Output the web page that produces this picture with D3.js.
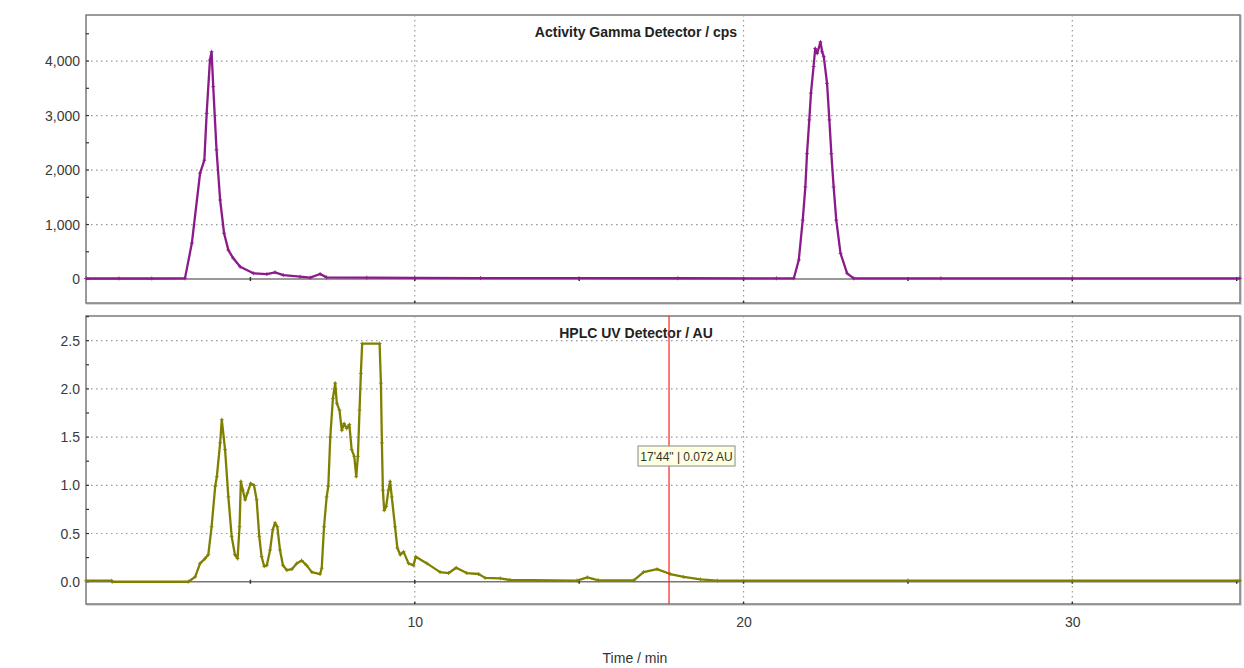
<!DOCTYPE html>
<html>
<head>
<meta charset="utf-8">
<script src="https://cdn.jsdelivr.net/npm/d3@7"></script>
<style>
  html, body { margin: 0; padding: 0; background: #fff; }
  svg { display: block; font-family: "Liberation Sans", Arial, sans-serif; }
</style>
</head>
<body>
<svg id="chart" width="1244" height="668"></svg>
<script>
// ---- data ----
const gammaTime = [0, 1, 2, 3.01, 3.22, 3.47, 3.6, 3.67, 3.77, 3.82, 3.87, 3.97, 4.08, 4.2, 4.33, 4.48, 4.69, 5.09, 5.5, 5.75, 6.0, 6.51, 6.82, 7.12, 7.32, 8.54, 10, 12, 15, 18, 21.0, 21.53, 21.68, 21.8, 21.88, 21.93, 22.0, 22.05, 22.13, 22.18, 22.24, 22.34, 22.39, 22.44, 22.54, 22.61, 22.67, 22.74, 22.82, 22.95, 23.15, 23.35, 26, 30, 35.1];
const gammaCps  = [10, 10, 10, 12, 660, 1945, 2180, 3040, 4020, 4170, 3530, 2370, 1450, 840, 530, 380, 226, 105, 90, 123, 73, 43, 25, 92, 30, 25, 20, 18, 15, 14, 13, 14, 350, 1080, 1690, 2300, 2920, 3410, 3900, 4230, 4140, 4350, 4170, 4080, 3590, 2920, 2300, 1690, 1080, 470, 105, 13, 12, 12, 12];

const uvTime = [0, 0.78, 0.8, 3.11, 3.32, 3.47, 3.62, 3.72, 3.82, 3.93, 3.98, 4.08, 4.13, 4.23, 4.33, 4.43, 4.53, 4.61, 4.67, 4.71, 4.77, 4.84, 4.91, 5.01, 5.11, 5.19, 5.27, 5.34, 5.42, 5.5, 5.6, 5.68, 5.75, 5.82, 5.9, 5.99, 6.11, 6.26, 6.41, 6.56, 6.71, 6.87, 7.12, 7.17, 7.24, 7.32, 7.37, 7.43, 7.51, 7.58, 7.63, 7.71, 7.78, 7.85, 7.93, 8.01, 8.08, 8.16, 8.22, 8.27, 8.32, 8.36, 8.4, 8.93, 8.97, 9.0, 9.03, 9.07, 9.13, 9.2, 9.25, 9.3, 9.4, 9.47, 9.56, 9.66, 9.81, 9.96, 10.03, 10.37, 10.77, 11.03, 11.26, 11.58, 11.94, 12.14, 12.6, 12.9, 14.93, 15.25, 15.59, 16.66, 16.96, 17.37, 17.77, 18.18, 18.69, 19.2, 25, 30, 35.1];
const uvAU   = [0.01, 0.01, 0.0, 0.0, 0.05, 0.19, 0.24, 0.28, 0.57, 0.99, 1.09, 1.44, 1.68, 1.37, 0.88, 0.47, 0.28, 0.24, 0.57, 1.04, 0.95, 0.85, 0.92, 1.02, 1.0, 0.85, 0.47, 0.26, 0.16, 0.17, 0.33, 0.54, 0.61, 0.57, 0.33, 0.17, 0.12, 0.13, 0.19, 0.22, 0.17, 0.10, 0.08, 0.14, 0.57, 0.88, 0.99, 1.50, 1.90, 2.06, 1.85, 1.78, 1.57, 1.64, 1.59, 1.63, 1.37, 1.30, 1.09, 1.30, 1.78, 2.16, 2.47, 2.47, 2.06, 1.44, 0.95, 0.74, 0.78, 0.95, 1.04, 0.88, 0.57, 0.35, 0.28, 0.31, 0.19, 0.17, 0.26, 0.19, 0.10, 0.09, 0.145, 0.09, 0.08, 0.04, 0.035, 0.018, 0.012, 0.045, 0.015, 0.015, 0.10, 0.13, 0.08, 0.05, 0.025, 0.012, 0.012, 0.012, 0.012];

const gammaTicks = [0, 1000, 2000, 3000, 4000];
const uvTicks = [0.0, 0.5, 1.0, 1.5, 2.0, 2.5];
const timeTicks = [10, 20, 30];
const cursorTime = 17 + 44 / 60;
const cursorLabel = "17'44\" | 0.072 AU";
const gammaTitle = "Activity Gamma Detector / cps";
const uvTitle = "HPLC UV Detector / AU";
const xTitle = "Time / min";

// ---- layout ----
const svg = d3.select("#chart");
const left = 86, right = 1240;
const x = d3.scaleLinear().domain([0, 35.1]).range([left, right]);

const panels = [
  { top: 15, bottom: 303, domain: [-440, 4845], ticks: gammaTicks, minor: d3.range(-0, 4800, 500),
    fmt: d3.format(","), time: gammaTime, vals: gammaCps, color: "#8b1a8b", title: gammaTitle },
  { top: 316, bottom: 604, domain: [-0.231, 2.756], ticks: uvTicks, minor: d3.range(0, 2.76, 0.25),
    fmt: d3.format(".1f"), time: uvTime, vals: uvAU, color: "#808000", title: uvTitle }
];

panels.forEach((p, i) => {
  const y = d3.scaleLinear().domain(p.domain).range([p.bottom, p.top]);
  const g = svg.append("g");

  // frame shadow + frame
  g.append("rect").attr("x", left + 1).attr("y", p.top + 1)
    .attr("width", right - left).attr("height", p.bottom - p.top)
    .attr("fill", "none").attr("stroke", "#d8d8d8").attr("stroke-width", 2);
  g.append("rect").attr("x", left).attr("y", p.top)
    .attr("width", right - left).attr("height", p.bottom - p.top)
    .attr("fill", "#fff").attr("stroke", "#7a7a7a").attr("stroke-width", 1.5);

  // horizontal dotted grid
  g.selectAll(".hg").data(p.ticks.filter(t => t !== 0)).join("line")
    .attr("x1", left).attr("x2", right)
    .attr("y1", d => y(d)).attr("y2", d => y(d))
    .attr("stroke", "#999").attr("stroke-width", 1.2).attr("stroke-dasharray", "1.5,3.5");
  // vertical dotted grid
  g.selectAll(".vg").data(timeTicks).join("line")
    .attr("x1", d => x(d)).attr("x2", d => x(d))
    .attr("y1", p.top).attr("y2", p.bottom)
    .attr("stroke", "#999").attr("stroke-width", 1.2).attr("stroke-dasharray", "1.5,3.5");

  // zero line
  g.append("line").attr("x1", left).attr("x2", right)
    .attr("y1", y(0)).attr("y2", y(0))
    .attr("stroke", "#777").attr("stroke-width", 1.5);

  // minor y ticks on left border
  g.selectAll(".ym").data(p.minor).join("line")
    .attr("x1", left).attr("x2", left + 3)
    .attr("y1", d => y(d)).attr("y2", d => y(d))
    .attr("stroke", "#333").attr("stroke-width", 1.2);
  // x ticks on zero line and frame bottom
  g.selectAll(".xm").data([5, 10, 15, 20, 25, 30, 35]).join("line")
    .attr("x1", d => x(d)).attr("x2", d => x(d))
    .attr("y1", y(0) - 2).attr("y2", y(0) + 2)
    .attr("stroke", "#333").attr("stroke-width", 1.5);
  g.selectAll(".xb").data(timeTicks).join("line")
    .attr("x1", d => x(d)).attr("x2", d => x(d))
    .attr("y1", p.bottom - 2).attr("y2", p.bottom)
    .attr("stroke", "#333").attr("stroke-width", 1.5);

  // y axis labels
  const yAxis = d3.axisLeft(y).tickValues(p.ticks).tickFormat(p.fmt).tickSize(0).tickPadding(6);
  const ya = g.append("g").attr("transform", `translate(${left},0)`).call(yAxis);
  ya.select(".domain").remove();
  ya.selectAll("text").attr("font-size", 14).attr("fill", "#3a3a3a")
    .attr("font-family", "'Liberation Sans', Arial, sans-serif");

  // data line
  const pts = p.time.map((t, k) => [t, p.vals[k]]);
  const line = d3.line().x(d => x(d[0])).y(d => y(d[1]));
  g.append("path").datum(pts).attr("d", line)
    .attr("fill", "none").attr("stroke", p.color).attr("stroke-width", 2.3)
    .attr("stroke-linejoin", "round");
  // point markers (+)
  g.selectAll(".pm").data(pts).join("path")
    .attr("transform", d => `translate(${x(d[0])},${y(d[1])})`)
    .attr("d", "M-2,0H2M0,-2V2")
    .attr("stroke", p.color).attr("stroke-width", 1).attr("opacity", 0.8);

  // title
  g.append("text").attr("x", 636).attr("y", p.top + 22)
    .attr("text-anchor", "middle").attr("font-size", 14).attr("font-weight", "bold")
    .attr("fill", "#222").text(p.title);

  if (i === 1) {
    // cursor
    const cx = x(cursorTime);
    g.append("line").attr("x1", cx).attr("x2", cx)
      .attr("y1", p.top).attr("y2", p.bottom)
      .attr("stroke", "#ff2020").attr("stroke-width", 1.2);
    const tg = g.append("g").attr("transform", `translate(${cx - 31},446)`);
    tg.append("rect").attr("x", 0).attr("y", 0).attr("width", 97).attr("height", 20)
      .attr("fill", "#ffffe1").attr("stroke", "#8a8a8a").attr("stroke-width", 1);
    tg.append("text").attr("x", 48.5).attr("y", 14.5)
      .attr("text-anchor", "middle").attr("font-size", 12).attr("fill", "#333")
      .text(cursorLabel);

    // x axis labels
    const xAxis = d3.axisBottom(x).tickValues(timeTicks).tickFormat(d3.format("d")).tickSize(0).tickPadding(13);
    const xa = g.append("g").attr("transform", `translate(0,${p.bottom})`).call(xAxis);
    xa.select(".domain").remove();
    xa.selectAll("text").attr("font-size", 14).attr("fill", "#3a3a3a")
      .attr("font-family", "'Liberation Sans', Arial, sans-serif");

    svg.append("text").attr("x", 635).attr("y", 663)
      .attr("text-anchor", "middle").attr("font-size", 14).attr("fill", "#333")
      .text(xTitle);
  }
});
</script>
</body>
</html>
